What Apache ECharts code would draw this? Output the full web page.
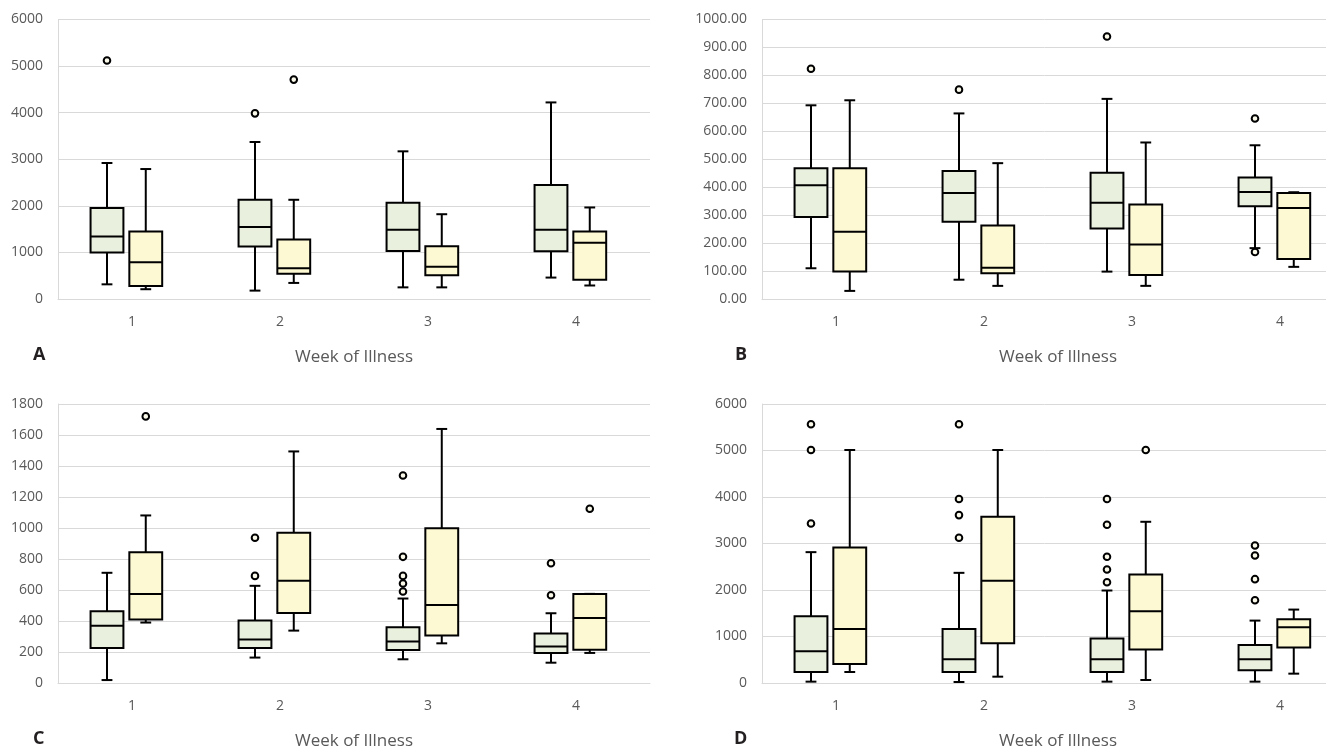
<!DOCTYPE html>
<html>
<head>
<meta charset="utf-8">
<script src="https://cdn.jsdelivr.net/npm/echarts@6/dist/echarts.min.js"></script>
<style>
  html, body { margin: 0; padding: 0; background: #ffffff; }
  #chart { width: 1326px; height: 751px; }
</style>
</head>
<body>
<div id="chart"></div>
<script>
var weeks = ['1', '2', '3', '4'];

// box values per week: [low whisker, Q1, median, Q3, high whisker]
// outliers: [week index, value]

// panel A
var boxA1 = [[315, 996, 1340, 1955, 2920], [180, 1125, 1545, 2130, 3370], [250, 1030, 1485, 2065, 3170], [460, 1025, 1485, 2445, 4220]];
var boxA2 = [[210, 280, 790, 1450, 2790], [345, 540, 660, 1275, 2130], [250, 510, 690, 1135, 1820], [290, 415, 1205, 1450, 1965]];
var outA1 = [[0, 5120], [1, 3985]];
var outA2 = [[1, 4710]];

// panel B
var boxB1 = [[110, 293, 407, 468, 693], [69, 276, 379, 458, 664], [98, 252, 344, 452, 716], [182, 332, 383, 435, 550]];
var boxB2 = [[29, 98, 241, 468, 711], [47, 92, 112, 263, 486], [47, 86, 195, 338, 560], [115, 143, 326, 379, 382]];
var outB1 = [[0, 824], [1, 749], [2, 939], [3, 646], [3, 168]];
var outB2 = [];

// panel C
var boxC1 = [[19, 226, 370, 463, 711], [164, 226, 280, 403, 627], [153, 213, 267, 360, 545], [131, 194, 235, 319, 450]];
var boxC2 = [[390, 409, 575, 844, 1081], [338, 452, 659, 969, 1494], [256, 306, 504, 999, 1639], [194, 215, 420, 575, 575]];
var outC1 = [[1, 937], [1, 691], [2, 1339], [2, 814], [2, 691], [2, 642], [2, 590], [3, 773], [3, 566]];
var outC2 = [[0, 1720], [3, 1124]];

// panel D
var boxD1 = [[29, 237, 682, 1436, 2814], [22, 237, 510, 1163, 2369], [29, 237, 510, 955, 1989], [29, 273, 510, 818, 1342]];
var boxD2 = [[237, 409, 1163, 2915, 5011], [136, 854, 2197, 3575, 5011], [65, 718, 1543, 2333, 3467], [201, 761, 1199, 1371, 1579]];
var outD1 = [[0, 5563], [0, 5011], [0, 3431], [1, 5563], [1, 3956], [1, 3611], [1, 3123], [2, 3956], [2, 3403], [2, 2714], [2, 2441], [2, 2168], [3, 2958], [3, 2742], [3, 2233], [3, 1780]];
var outD2 = [[2, 5011]];

var chart = echarts.init(document.getElementById('chart'));

var GRID_COLOR = '#d9d9d9';
var LABEL_COLOR = '#595959';
var GREEN = '#e9f0de';
var YELLOW = '#fdf9d3';

// box drawn at a shift of the band width from the category centre
function boxItem(shift, fill) {
  return function (params, api) {
    var c = api.value(0);
    var band = api.size([1, 0])[0];
    var x = api.coord([c, 0])[0] + band * shift;
    var w = band * 0.222;
    var cap = w * 0.33;
    var yLow = api.coord([c, api.value(1)])[1];
    var yQ1 = api.coord([c, api.value(2)])[1];
    var yMed = api.coord([c, api.value(3)])[1];
    var yQ3 = api.coord([c, api.value(4)])[1];
    var yHigh = api.coord([c, api.value(5)])[1];
    var line = { stroke: '#000', lineWidth: 2 };
    return {
      type: 'group',
      children: [
        { type: 'line', shape: { x1: x, y1: yHigh, x2: x, y2: yQ3 }, style: line },
        { type: 'line', shape: { x1: x, y1: yQ1, x2: x, y2: yLow }, style: line },
        { type: 'line', shape: { x1: x - cap / 2, y1: yHigh, x2: x + cap / 2, y2: yHigh }, style: line },
        { type: 'line', shape: { x1: x - cap / 2, y1: yLow, x2: x + cap / 2, y2: yLow }, style: line },
        { type: 'rect', shape: { x: x - w / 2, y: yQ3, width: w, height: yQ1 - yQ3 },
          style: { fill: fill, stroke: '#000', lineWidth: 2 } },
        { type: 'line', shape: { x1: x - w / 2, y1: yMed, x2: x + w / 2, y2: yMed }, style: line }
      ]
    };
  };
}

function dotItem(shift) {
  return function (params, api) {
    var c = api.value(0);
    var band = api.size([1, 0])[0];
    var p = api.coord([c, api.value(1)]);
    return {
      type: 'circle',
      shape: { cx: p[0] + band * shift, cy: p[1], r: 3.3 },
      style: { fill: '#fbfaea', stroke: '#000', lineWidth: 2 }
    };
  };
}

var grids = [];
var xAxes = [];
var yAxes = [];
var series = [];

function addPanel(idx, pos, yMax, yStep, decimals, box1, box2, out1, out2) {
  pos.outerBoundsMode = 'none';
  pos.containLabel = false;
  grids.push(pos);
  xAxes.push({
    type: 'category',
    gridIndex: idx,
    data: weeks,
    boundaryGap: true,
    axisLine: { lineStyle: { color: GRID_COLOR, width: 1 } },
    axisTick: { show: false },
    axisLabel: { color: LABEL_COLOR, fontSize: 14, margin: 16 },
    name: 'Week of Illness',
    nameLocation: 'middle',
    nameGap: 50,
    nameTextStyle: { color: LABEL_COLOR, fontSize: 17 }
  });
  yAxes.push({
    type: 'value',
    gridIndex: idx,
    min: 0,
    max: yMax,
    interval: yStep,
    axisLine: { show: true, lineStyle: { color: GRID_COLOR, width: 1 } },
    axisTick: { show: false },
    splitLine: { lineStyle: { color: GRID_COLOR, width: 1 } },
    axisLabel: {
      color: LABEL_COLOR,
      fontSize: 14,
      margin: 15,
      formatter: function (v) { return v.toFixed(decimals); }
    }
  });
  var toRow = function (b, i) { return [i].concat(b); };
  series.push({
    type: 'custom', xAxisIndex: idx, yAxisIndex: idx,
    renderItem: boxItem(-0.169, GREEN),
    encode: { x: 0, y: [1, 2, 3, 4, 5] },
    data: box1.map(toRow)
  });
  series.push({
    type: 'custom', xAxisIndex: idx, yAxisIndex: idx,
    renderItem: boxItem(0.093, YELLOW),
    encode: { x: 0, y: [1, 2, 3, 4, 5] },
    data: box2.map(toRow)
  });
  series.push({
    type: 'custom', xAxisIndex: idx, yAxisIndex: idx, z: 3,
    renderItem: dotItem(-0.169),
    encode: { x: 0, y: 1 },
    data: out1
  });
  series.push({
    type: 'custom', xAxisIndex: idx, yAxisIndex: idx, z: 3,
    renderItem: dotItem(0.093),
    encode: { x: 0, y: 1 },
    data: out2
  });
}

// right column runs past the picture edge, like the cropped original
addPanel(0, { left: 58, width: 592, top: 19.5, bottom: 452 }, 6000, 1000, 0, boxA1, boxA2, outA1, outA2);
addPanel(1, { left: 762, width: 592, top: 19.5, bottom: 452 }, 1000, 100, 2, boxB1, boxB2, outB1, outB2);
addPanel(2, { left: 58, width: 592, top: 404, bottom: 68 }, 1800, 200, 0, boxC1, boxC2, outC1, outC2);
addPanel(3, { left: 762, width: 592, top: 404, bottom: 68 }, 6000, 1000, 0, boxD1, boxD2, outD1, outD2);

function letter(txt, x, y) {
  return {
    type: 'text', left: x, top: y,
    style: { text: txt, fill: '#231f20', font: 'bold 18px "Open Sans"' }
  };
}

chart.setOption({
  backgroundColor: '#ffffff',
  animation: false,
  textStyle: { fontFamily: 'Open Sans' },
  grid: grids,
  xAxis: xAxes,
  yAxis: yAxes,
  series: series,
  graphic: [
    letter('A', 33, 346),
    letter('B', 735, 346),
    letter('C', 33, 730),
    letter('D', 734, 730)
  ]
});
</script>
</body>
</html>
